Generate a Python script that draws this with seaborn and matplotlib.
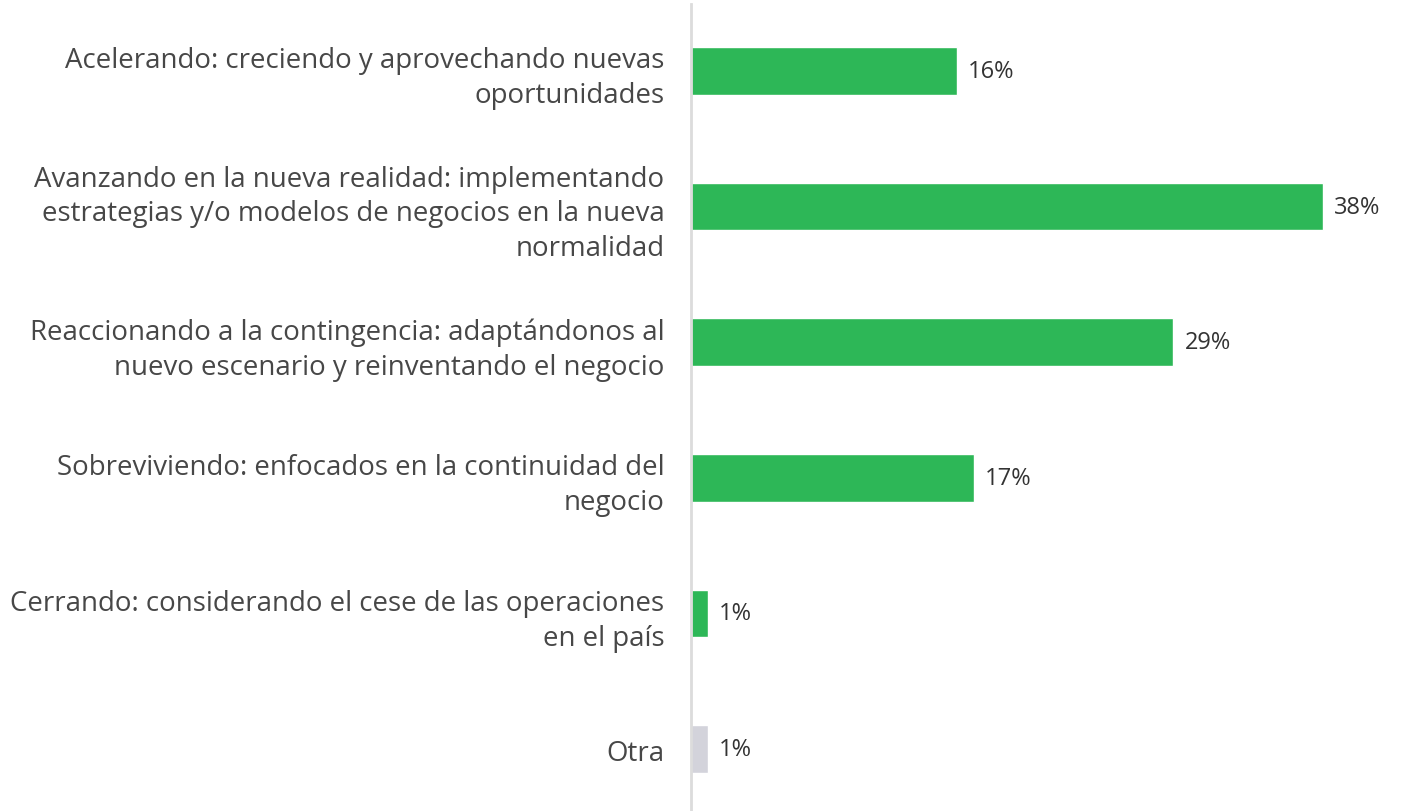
import matplotlib
matplotlib.use("Agg")
import matplotlib.pyplot as plt
import seaborn as sns
import pandas as pd

categories = [
    "Acelerando: creciendo y aprovechando nuevas\noportunidades",
    "Avanzando en la nueva realidad: implementando\nestrategias y/o modelos de negocios en la nueva\nnormalidad",
    "Reaccionando a la contingencia: adaptándonos al\nnuevo escenario y reinventando el negocio",
    "Sobreviviendo: enfocados en la continuidad del\nnegocio",
    "Cerrando: considerando el cese de las operaciones\nen el país",
    "Otra",
]
values = [16, 38, 29, 17, 1, 1]
groups = ["main", "main", "main", "main", "main", "other"]

palette = {"main": "#2db757", "other": "#d3d3db"}

df = pd.DataFrame({"categoria": categories, "valor": values, "grupo": groups})

sns.set_theme(style="white")
plt.rcParams["font.family"] = ["Open Sans", "DejaVu Sans"]

fig = plt.figure(figsize=(14.03, 8.12), dpi=100)
ax = fig.add_axes([691 / 1403, 0.0, 712 / 1403, 807 / 812])

sns.barplot(data=df, y="categoria", x="valor", hue="grupo", palette=palette,
            orient="h", width=0.35, dodge=False, legend=False, ax=ax,
            saturation=1)

ax.set_xlim(0, 42.8)
ax.set_ylim(5.457, -0.494)
ax.set_xlabel("")
ax.set_ylabel("")
ax.set_xticks([])

for side in ["top", "right", "bottom"]:
    ax.spines[side].set_visible(False)
ax.spines["left"].set_color("#dcdcdc")
ax.spines["left"].set_linewidth(2)

ax.tick_params(axis="y", length=0, pad=19)
for lbl in ax.get_yticklabels():
    lbl.set_fontsize(19.9)
    lbl.set_color("#474747")
    lbl.set_horizontalalignment("right")
    lbl.set_linespacing(1.32)

for i, v in enumerate(values):
    ax.annotate(f"{v}%", xy=(v, i), xytext=(8, 0), textcoords="offset points",
                va="center", ha="left", fontsize=17, color="#333333")

fig.savefig("out.png", dpi=100)
